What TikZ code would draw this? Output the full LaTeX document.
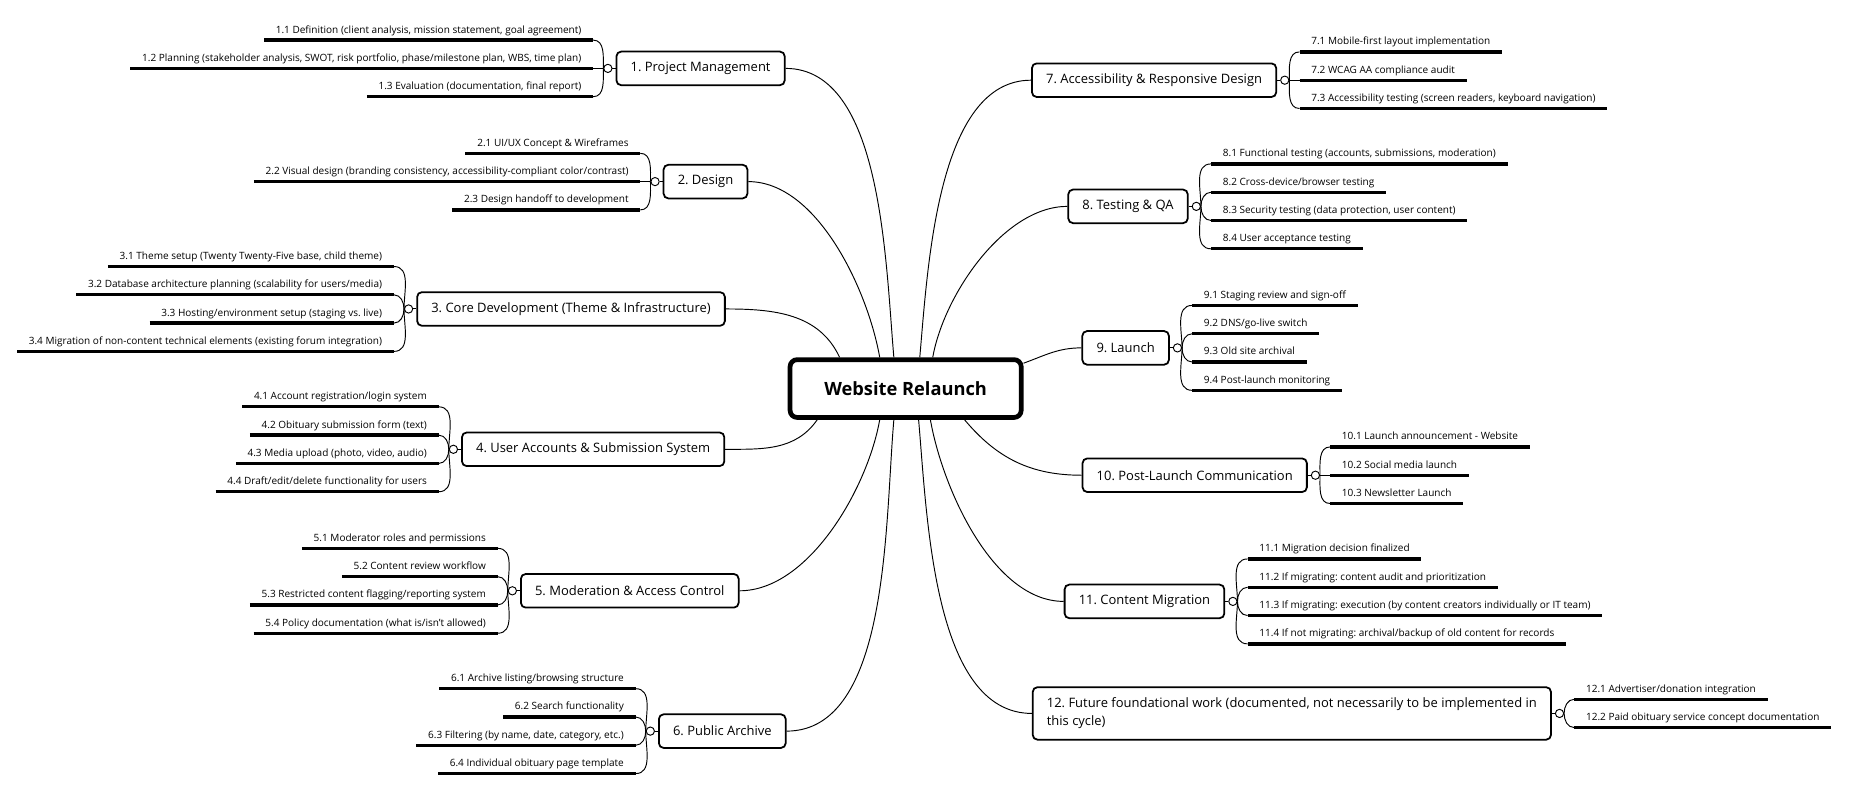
\documentclass[tikz,border=0pt]{standalone}
\usepackage{fontspec}
\setmainfont{Open Sans}
\frenchspacing

\begin{document}
\begin{tikzpicture}[x=1pt,y=1pt]
\fill[white] (0,0) rectangle (1568,-670);

\node[draw, line width=4pt, rounded corners=6pt, minimum width=196pt, minimum height=49pt,
      font=\fontsize{15.5}{18}\selectfont\bfseries] (root) at (768,-329.5) {Website Relaunch};

\begin{scope}[every node/.style={draw, line width=1.5pt, rounded corners=4pt, inner xsep=12pt,
      inner ysep=3pt, minimum height=28.5pt, font=\fontsize{11}{15}\selectfont}]
    \node[anchor=west] (t1) at (522,-58) {1. Project Management};
    \node[anchor=west] (t2) at (562,-154) {2. Design};
    \node[anchor=west] (t3) at (353,-262) {3. Core Development (Theme \& Infrastructure)};
    \node[anchor=west] (t4) at (391,-381) {4. User Accounts \& Submission System};
    \node[anchor=west] (t5) at (441,-501) {5. Moderation \& Access Control};
    \node[anchor=west] (t6) at (558,-620) {6. Public Archive};

    \node[anchor=east] (t7) at (1083,-68) {7. Accessibility \& Responsive Design};
    \node[anchor=east] (t8) at (1008,-175) {8. Testing \& QA};
    \node[anchor=east] (t9) at (992,-295) {9. Launch};
    \node[anchor=east] (t10) at (1109,-403) {10. Post-Launch Communication};
    \node[anchor=east] (t11) at (1039,-510) {11. Content Migration};
    \node[anchor=east, align=left, minimum height=44.5pt] (t12) at (1316,-605)
        {12. Future foundational work (documented, not necessarily to be implemented in\\this cycle)};
\end{scope}

\begin{scope}[every node/.style={circle, draw, line width=0.8pt, fill=white, minimum size=7pt, inner sep=0pt}]
    \node (o1) at (515.5,-58) {};
    \node (o2) at (555.5,-154) {};
    \node (o3) at (346.5,-262) {};
    \node (o4) at (384.5,-381) {};
    \node (o5) at (434.5,-501) {};
    \node (o6) at (551.5,-620) {};

    \node (o7) at (1089.5,-68) {};
    \node (o8) at (1014.5,-175) {};
    \node (o9) at (998.5,-295) {};
    \node (o10) at (1115.5,-403) {};
    \node (o11) at (1045.5,-510) {};
    \node (o12) at (1322.5,-605) {};
\end{scope}

\begin{scope}[every node/.style={anchor=south east, inner xsep=10pt, inner ysep=3.5pt, outer sep=0pt,
      text height=6.4pt, text depth=2.5pt, font=\fontsize{8.5}{10}\selectfont}]
    \node (s11) at (503,-34) {1.1 Definition (client analysis, mission statement, goal agreement)};
    \node (s12) at (503,-58) {1.2 Planning (stakeholder analysis, SWOT, risk portfolio, phase/milestone plan, WBS, time plan)};
    \node (s13) at (503,-82) {1.3 Evaluation (documentation, final report)};

    \node (s21) at (543,-130) {2.1 UI/UX Concept \& Wireframes};
    \node (s22) at (543,-154) {2.2 Visual design (branding consistency, accessibility-compliant color/contrast)};
    \node (s23) at (543,-178) {2.3 Design handoff to development};

    \node (s31) at (334,-226) {3.1 Theme setup (Twenty Twenty-Five base, child theme)};
    \node (s32) at (334,-250) {3.2 Database architecture planning (scalability for users/media)};
    \node (s33) at (334,-274) {3.3 Hosting/environment setup (staging vs. live)};
    \node (s34) at (334,-298) {3.4 Migration of non-content technical elements (existing forum integration)};

    \node (s41) at (372,-345) {4.1 Account registration/login system};
    \node (s42) at (372,-369) {4.2 Obituary submission form (text)};
    \node (s43) at (372,-393) {4.3 Media upload (photo, video, audio)};
    \node (s44) at (372,-417) {4.4 Draft/edit/delete functionality for users};

    \node (s51) at (422,-465) {5.1 Moderator roles and permissions};
    \node (s52) at (422,-489) {5.2 Content review workflow};
    \node (s53) at (422,-513) {5.3 Restricted content flagging/reporting system};
    \node (s54) at (422,-537) {5.4 Policy documentation (what is/isn't allowed)};

    \node (s61) at (539,-584) {6.1 Archive listing/browsing structure};
    \node (s62) at (539,-608) {6.2 Search functionality};
    \node (s63) at (539,-632) {6.3 Filtering (by name, date, category, etc.)};
    \node (s64) at (539,-656) {6.4 Individual obituary page template};
\end{scope}

\begin{scope}[every node/.style={anchor=south west, inner xsep=10pt, inner ysep=3.5pt, outer sep=0pt,
      text height=6.4pt, text depth=2.5pt, font=\fontsize{8.5}{10}\selectfont}]
    \node (s71) at (1102,-44) {7.1 Mobile-first layout implementation};
    \node (s72) at (1102,-68) {7.2 WCAG AA compliance audit};
    \node (s73) at (1102,-92) {7.3 Accessibility testing (screen readers, keyboard navigation)};

    \node (s81) at (1027,-139) {8.1 Functional testing (accounts, submissions, moderation)};
    \node (s82) at (1027,-163) {8.2 Cross-device/browser testing};
    \node (s83) at (1027,-187) {8.3 Security testing (data protection, user content)};
    \node (s84) at (1027,-211) {8.4 User acceptance testing};

    \node (s91) at (1011,-259) {9.1 Staging review and sign-off};
    \node (s92) at (1011,-283) {9.2 DNS/go-live switch};
    \node (s93) at (1011,-307) {9.3 Old site archival};
    \node (s94) at (1011,-331) {9.4 Post-launch monitoring};

    \node (s101) at (1128,-379) {10.1 Launch announcement - Website};
    \node (s102) at (1128,-403) {10.2 Social media launch};
    \node (s103) at (1128,-427) {10.3 Newsletter Launch};

    \node (s111) at (1058,-474) {11.1 Migration decision finalized};
    \node (s112) at (1058,-498) {11.2 If migrating: content audit and prioritization};
    \node (s113) at (1058,-522) {11.3 If migrating: execution (by content creators individually or IT team)};
    \node (s114) at (1058,-546) {11.4 If not migrating: archival/backup of old content for records};

    \node (s121) at (1335,-593) {12.1 Advertiser/donation integration};
    \node (s122) at (1335,-617) {12.2 Paid obituary service concept documentation};
\end{scope}

\begin{scope}[style={line width=2.8pt}]
    \draw (s11.south west) -- (s11.south east) (s12.south west) -- (s12.south east)
          (s13.south west) -- (s13.south east);
    \draw (s21.south west) -- (s21.south east) (s22.south west) -- (s22.south east)
          (s23.south west) -- (s23.south east);
    \draw (s31.south west) -- (s31.south east) (s32.south west) -- (s32.south east)
          (s33.south west) -- (s33.south east) (s34.south west) -- (s34.south east);
    \draw (s41.south west) -- (s41.south east) (s42.south west) -- (s42.south east)
          (s43.south west) -- (s43.south east) (s44.south west) -- (s44.south east);
    \draw (s51.south west) -- (s51.south east) (s52.south west) -- (s52.south east)
          (s53.south west) -- (s53.south east) (s54.south west) -- (s54.south east);
    \draw (s61.south west) -- (s61.south east) (s62.south west) -- (s62.south east)
          (s63.south west) -- (s63.south east) (s64.south west) -- (s64.south east);
    \draw (s71.south west) -- (s71.south east) (s72.south west) -- (s72.south east)
          (s73.south west) -- (s73.south east);
    \draw (s81.south west) -- (s81.south east) (s82.south west) -- (s82.south east)
          (s83.south west) -- (s83.south east) (s84.south west) -- (s84.south east);
    \draw (s91.south west) -- (s91.south east) (s92.south west) -- (s92.south east)
          (s93.south west) -- (s93.south east) (s94.south west) -- (s94.south east);
    \draw (s101.south west) -- (s101.south east) (s102.south west) -- (s102.south east)
          (s103.south west) -- (s103.south east);
    \draw (s111.south west) -- (s111.south east) (s112.south west) -- (s112.south east)
          (s113.south west) -- (s113.south east) (s114.south west) -- (s114.south east);
    \draw (s121.south west) -- (s121.south east) (s122.south west) -- (s122.south east);
\end{scope}

\begin{scope}[style={line width=0.8pt,draw}]
    \path (o1.west) edge[out=90,in=0] (s11.south east);
    \path (o1.west) edge (s12.south east);
    \path (o1.west) edge[out=-90,in=0] (s13.south east);

    \path (o2.west) edge[out=90,in=0] (s21.south east);
    \path (o2.west) edge (s22.south east);
    \path (o2.west) edge[out=-90,in=0] (s23.south east);

    \path (o3.west) edge[out=90,in=0] (s31.south east);
    \path (o3.west) edge[out=90,in=0] (s32.south east);
    \path (o3.west) edge[out=-90,in=0] (s33.south east);
    \path (o3.west) edge[out=-90,in=0] (s34.south east);

    \path (o4.west) edge[out=90,in=0] (s41.south east);
    \path (o4.west) edge[out=90,in=0] (s42.south east);
    \path (o4.west) edge[out=-90,in=0] (s43.south east);
    \path (o4.west) edge[out=-90,in=0] (s44.south east);

    \path (o5.west) edge[out=90,in=0] (s51.south east);
    \path (o5.west) edge[out=90,in=0] (s52.south east);
    \path (o5.west) edge[out=-90,in=0] (s53.south east);
    \path (o5.west) edge[out=-90,in=0] (s54.south east);

    \path (o6.west) edge[out=90,in=0] (s61.south east);
    \path (o6.west) edge[out=90,in=0] (s62.south east);
    \path (o6.west) edge[out=-90,in=0] (s63.south east);
    \path (o6.west) edge[out=-90,in=0] (s64.south east);

    \path (o7.east) edge[out=90,in=180] (s71.south west);
    \path (o7.east) edge (s72.south west);
    \path (o7.east) edge[out=-90,in=180] (s73.south west);

    \path (o8.east) edge[out=90,in=180] (s81.south west);
    \path (o8.east) edge[out=90,in=180] (s82.south west);
    \path (o8.east) edge[out=-90,in=180] (s83.south west);
    \path (o8.east) edge[out=-90,in=180] (s84.south west);

    \path (o9.east) edge[out=90,in=180] (s91.south west);
    \path (o9.east) edge[out=90,in=180] (s92.south west);
    \path (o9.east) edge[out=-90,in=180] (s93.south west);
    \path (o9.east) edge[out=-90,in=180] (s94.south west);

    \path (o10.east) edge[out=90,in=180] (s101.south west);
    \path (o10.east) edge (s102.south west);
    \path (o10.east) edge[out=-90,in=180] (s103.south west);

    \path (o11.east) edge[out=90,in=180] (s111.south west);
    \path (o11.east) edge[out=90,in=180] (s112.south west);
    \path (o11.east) edge[out=-90,in=180] (s113.south west);
    \path (o11.east) edge[out=-90,in=180] (s114.south west);

    \path (o12.east) edge[out=90,in=180] (s121.south west);
    \path (o12.east) edge[out=-90,in=180] (s122.south west);

    \path (t1.west) edge (o1.east);
    \path (t2.west) edge (o2.east);
    \path (t3.west) edge (o3.east);
    \path (t4.west) edge (o4.east);
    \path (t5.west) edge (o5.east);
    \path (t6.west) edge (o6.east);
    \path (t7.east) edge (o7.west);
    \path (t8.east) edge (o8.west);
    \path (t9.east) edge (o9.west);
    \path (t10.east) edge (o10.west);
    \path (t11.east) edge (o11.west);
    \path (t12.east) edge (o12.west);
\end{scope}

\begin{scope}[style={line width=0.8pt,draw}]
    \path ([xshift=90pt]root.north west) edge[out=95,in=0,looseness=0.8] (t1.east);
    \path ([xshift=78pt]root.north west) edge[out=100,in=0,looseness=0.8] (t2.east);
    \path ([xshift=44pt]root.north west) edge[out=115,in=0] (t3.east);
    \path ([xshift=25pt]root.south west) edge[out=235,in=0] (t4.east);
    \path ([xshift=78pt]root.south west) edge[out=260,in=0,looseness=0.8] (t5.east);
    \path ([xshift=90pt]root.south west) edge[out=265,in=0,looseness=0.8] (t6.east);

    \path ([xshift=112pt]root.north west) edge[out=85,in=180,looseness=0.8] (t7.west);
    \path ([xshift=123pt]root.north west) edge[out=80,in=180,looseness=0.8] (t8.west);
    \path ([yshift=-5pt]root.north east) edge[out=20,in=180] (t9.west);
    \path ([xshift=150pt]root.south west) edge[out=-50,in=180] (t10.west);
    \path ([xshift=121pt]root.south west) edge[out=-80,in=180,looseness=0.8] (t11.west);
    \path ([xshift=111pt]root.south west) edge[out=-85,in=180,looseness=0.8] (t12.west);
\end{scope}

\end{tikzpicture}
\end{document}
